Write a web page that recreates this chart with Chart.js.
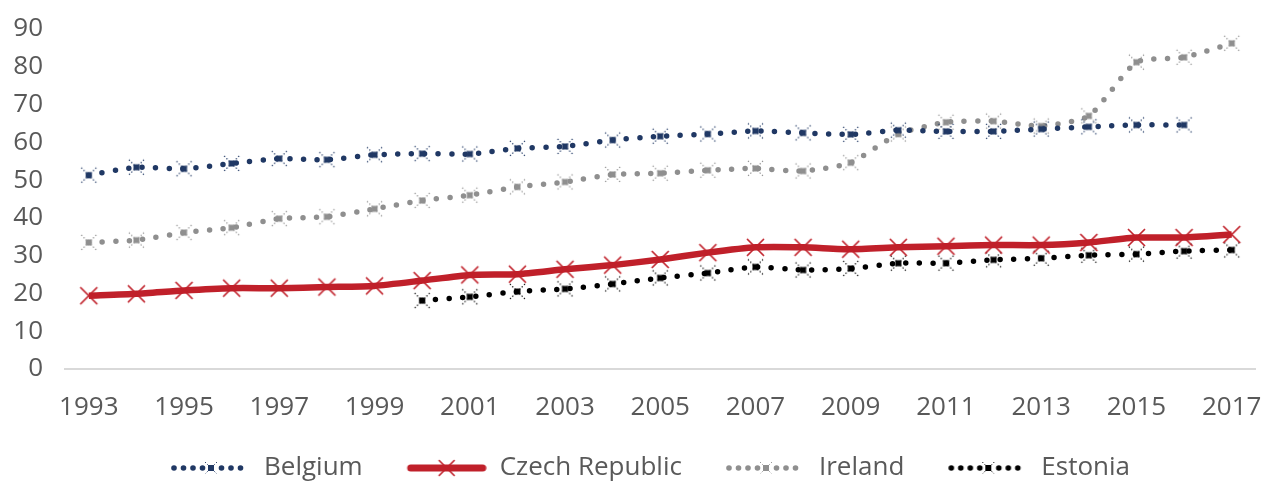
<!DOCTYPE html>
<html>
<head>
<meta charset="utf-8">
<script src="https://cdn.jsdelivr.net/npm/chart.js@4"></script>
<style>
  html, body { margin: 0; padding: 0; background: #fff; }
  #wrap { width: 1266px; height: 482px; }
</style>
</head>
<body>
<div id="wrap"><canvas id="chart" width="1266" height="482"></canvas></div>
<script>
const years = ["1993","1994","1995","1996","1997","1998","1999","2000","2001","2002","2003","2004","2005",
  "2006","2007","2008","2009","2010","2011","2012","2013","2014","2015","2016","2017"];
const belgium = [51.3, 53.4, 53.0, 54.4, 55.7, 55.4, 56.7, 57.0, 56.9, 58.4, 58.9, 60.6, 61.6,
  62.2, 63.0, 62.5, 62.1, 63.2, 62.9, 62.9, 63.5, 64.1, 64.6, 64.6, null];
const czech = [19.4, 19.9, 20.8, 21.4, 21.4, 21.7, 22.0, 23.4, 24.9, 25.1, 26.4, 27.5, 29.0,
  30.8, 32.2, 32.2, 31.7, 32.2, 32.5, 32.8, 32.8, 33.5, 34.8, 34.8, 35.6];
const ireland = [33.5, 34.1, 36.1, 37.4, 39.8, 40.3, 42.4, 44.6, 46.0, 48.2, 49.5, 51.5, 51.8,
  52.6, 53.1, 52.4, 54.6, 62.2, 65.3, 65.6, 64.3, 67.0, 81.2, 82.5, 86.2];
const estonia = [null, null, null, null, null, null, null, 18.1, 19.1, 20.5, 21.2, 22.5, 24.1,
  25.4, 27.0, 26.2, 26.6, 28.0, 28.0, 28.9, 29.3, 30.1, 30.4, 31.2, 31.5];

const NAVY = "#203864";
const RED = "#C0202A";
const GREY = "#8F8F8F";
const BLACK = "#000000";
const TEXT = "#595959";
const FAMILY = "'Open Sans'";

// x marker, dotted or solid, dotted ones get a small square in the middle
function drawMarker(ctx, cx, cy, color, half, dotted, lw) {
  ctx.save();
  ctx.strokeStyle = color;
  ctx.fillStyle = color;
  ctx.lineWidth = lw;
  if (dotted) ctx.setLineDash([1.3, 2]);
  ctx.beginPath();
  ctx.moveTo(cx - half, cy - half); ctx.lineTo(cx + half, cy + half);
  ctx.moveTo(cx + half, cy - half); ctx.lineTo(cx - half, cy + half);
  ctx.stroke();
  if (dotted) ctx.fillRect(cx - 3, cy - 3, 6, 6);
  ctx.restore();
}

function markerCanvas(color, half, dotted, lw) {
  const c = document.createElement("canvas");
  const s = Math.ceil(half * 2 + 4);
  c.width = s; c.height = s;
  drawMarker(c.getContext("2d"), s / 2, s / 2, color, half, dotted, lw);
  return c;
}

// legend sample: blank gap on the left, then line + marker
const GAP = 36, SAMPLE = 80;
function legendCanvas(color, dotted) {
  const c = document.createElement("canvas");
  c.width = GAP + SAMPLE; c.height = 24;
  const ctx = c.getContext("2d");
  ctx.strokeStyle = color;
  ctx.fillStyle = color;
  const mid = GAP + SAMPLE / 2;
  if (dotted) {
    for (let x = GAP + 3; x <= GAP + SAMPLE - 2; x += 9.5) {
      if (Math.abs(x - mid) < 6) continue;
      ctx.beginPath(); ctx.arc(x, 12, 2.8, 0, Math.PI * 2); ctx.fill();
    }
    drawMarker(ctx, mid, 12, color, 6, true, 1);
  } else {
    ctx.lineWidth = 7; ctx.lineCap = "round";
    ctx.beginPath(); ctx.moveTo(GAP + 4, 12); ctx.lineTo(GAP + SAMPLE - 4, 12); ctx.stroke();
    drawMarker(ctx, mid, 12, color, 7.5, false, 1.6);
  }
  return c;
}

const dotted = (label, data, color, order) => ({
  label, data, order,
  borderColor: color,
  backgroundColor: color,
  borderWidth: 5.5,
  borderDash: [0, 13.5],
  borderCapStyle: "round",
  pointStyle: markerCanvas(color, 7.5, true, 1.2),
  legendImg: legendCanvas(color, true),
  tension: 0.2
});

new Chart(document.getElementById("chart").getContext("2d"), {
  type: "line",
  data: {
    labels: years,
    datasets: [
      dotted("Belgium", belgium, NAVY, 3),
      {
        label: "Czech Republic", data: czech, order: 1,
        borderColor: RED, backgroundColor: RED,
        borderWidth: 6.5,
        pointStyle: markerCanvas(RED, 8.5, false, 1.7),
        legendImg: legendCanvas(RED, false),
        tension: 0.2
      },
      dotted("Ireland", ireland, GREY, 4),
      dotted("Estonia", estonia, BLACK, 2)
    ]
  },
  options: {
    responsive: false,
    animation: false,
    layout: { padding: { left: 9, right: 10, top: 29, bottom: -9 } },
    plugins: {
      tooltip: { enabled: false },
      legend: {
        position: "bottom",
        labels: {
          usePointStyle: true,
          pointStyleWidth: GAP + SAMPLE,
          padding: 8,
          color: TEXT,
          font: { family: FAMILY, size: 26 },
          generateLabels: chart => chart.data.datasets.map((ds, i) => ({
            text: ds.label,
            pointStyle: ds.legendImg,
            fontColor: TEXT,
            datasetIndex: i,
            hidden: false,
            lineWidth: 0
          }))
        }
      }
    },
    scales: {
      x: {
        offset: true,
        grid: { display: false, drawTicks: false },
        border: { display: true, color: "#D9D9D9", width: 2 },
        ticks: {
          autoSkip: false,
          maxRotation: 0,
          color: TEXT,
          padding: 11,
          font: { family: FAMILY, size: 26, lineHeight: 2.154 },
          callback: (v, i) => (i % 2 === 0 ? years[i] : "")
        },
        afterFit: s => { s.paddingLeft = 0; s.paddingRight = 0; }
      },
      y: {
        min: 0, max: 90,
        grid: { display: false, drawTicks: false },
        border: { display: false },
        ticks: {
          stepSize: 10,
          color: TEXT,
          padding: 22,
          font: { family: FAMILY, size: 26 }
        },
        afterFit: s => { s.width = 56; s.paddingTop = 0; s.paddingBottom = 0; }
      }
    }
  }
});
</script>
</body>
</html>
